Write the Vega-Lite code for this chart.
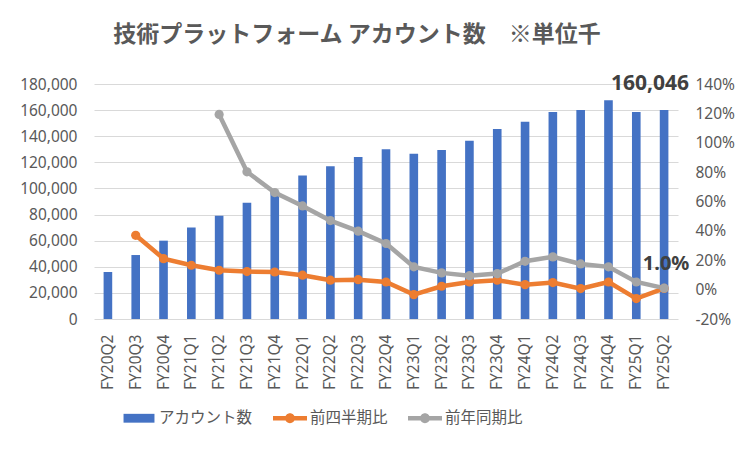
{
  "$schema": "https://vega.github.io/schema/vega-lite/v6.json",
  "width": 584,
  "height": 235,
  "autosize": {"type": "none"},
  "padding": {"left": 94, "top": 84, "right": 74, "bottom": 133},
  "background": "white",
  "title": {
    "text": "技術プラットフォーム アカウント数　※単位千",
    "frame": "group",
    "anchor": "middle",
    "offset": 26,
    "dx": -29,
    "font": "Noto Sans CJK JP",
    "fontSize": 23,
    "fontWeight": "bold",
    "color": "#595959"
  },
  "data": {
    "values": [
      {"q": "FY20Q2", "acc": 36000, "qoq": null, "yoy": null},
      {"q": "FY20Q3", "acc": 49000, "qoq": 0.37, "yoy": null},
      {"q": "FY20Q4", "acc": 60000, "qoq": 0.211, "yoy": null},
      {"q": "FY21Q1", "acc": 70000, "qoq": 0.166, "yoy": null},
      {"q": "FY21Q2", "acc": 79000, "qoq": 0.132, "yoy": 1.193},
      {"q": "FY21Q3", "acc": 89000, "qoq": 0.123, "yoy": 0.802},
      {"q": "FY21Q4", "acc": 98000, "qoq": 0.12, "yoy": 0.661},
      {"q": "FY22Q1", "acc": 110000, "qoq": 0.098, "yoy": 0.57},
      {"q": "FY22Q2", "acc": 117000, "qoq": 0.064, "yoy": 0.47},
      {"q": "FY22Q3", "acc": 124000, "qoq": 0.068, "yoy": 0.398},
      {"q": "FY22Q4", "acc": 130000, "qoq": 0.052, "yoy": 0.314},
      {"q": "FY23Q1", "acc": 126500, "qoq": -0.034, "yoy": 0.155},
      {"q": "FY23Q2", "acc": 129500, "qoq": 0.023, "yoy": 0.114},
      {"q": "FY23Q3", "acc": 136500, "qoq": 0.052, "yoy": 0.095},
      {"q": "FY23Q4", "acc": 145500, "qoq": 0.064, "yoy": 0.109},
      {"q": "FY24Q1", "acc": 151000, "qoq": 0.034, "yoy": 0.193},
      {"q": "FY24Q2", "acc": 158500, "qoq": 0.048, "yoy": 0.223},
      {"q": "FY24Q3", "acc": 160000, "qoq": 0.007, "yoy": 0.175},
      {"q": "FY24Q4", "acc": 167500, "qoq": 0.052, "yoy": 0.155},
      {"q": "FY25Q1", "acc": 158500, "qoq": -0.061, "yoy": 0.052},
      {"q": "FY25Q2", "acc": 160046, "qoq": 0.008, "yoy": 0.01}
    ]
  },
  "encoding": {
    "x": {
      "field": "q",
      "type": "nominal",
      "sort": null,
      "scale": {"paddingInner": 0.69, "paddingOuter": 0.345},
      "axis": {
        "title": null,
        "labelAngle": -90,
        "labelFont": "Noto Sans",
        "labelFontSize": 15.5,
        "labelColor": "#595959",
        "labelPadding": 15,
        "domain": false,
        "ticks": false,
        "tickSize": 0,
        "grid": false
      }
    }
  },
  "layer": [
    {
      "mark": {"type": "bar"},
      "encoding": {
        "y": {
          "field": "acc",
          "type": "quantitative",
          "scale": {"domain": [0, 180000], "nice": false, "zero": true},
          "axis": {
            "title": null,
            "values": [0, 20000, 40000, 60000, 80000, 100000, 120000, 140000, 160000, 180000],
            "format": ",.0f",
            "grid": true,
            "gridColor": "#D9D9D9",
            "gridWidth": 1,
            "domain": false,
            "ticks": false,
            "tickSize": 0,
            "labelPadding": 17,
            "labelFont": "Noto Sans",
            "labelFontSize": 15.5,
            "labelColor": "#595959"
          }
        },
        "color": {
          "datum": "acc",
          "type": "nominal",
          "scale": {"domain": ["acc", "qoq", "yoy"], "range": ["#4472C4", "#ED7D31", "#A5A5A5"]},
          "legend": {
            "title": null,
            "orient": "none",
            "direction": "horizontal",
            "legendX": 28,
            "legendY": 317,
            "symbolSize": 1156,
            "labelOffset": 3,
            "columnPadding": 20,
            "labelFont": "Noto Sans CJK JP",
            "labelFontSize": 15.5,
            "labelColor": "#595959",
            "labelExpr": "datum.label == 'acc' ? 'アカウント数' : datum.label == 'qoq' ? '前四半期比' : '前年同期比'",
            "encode": {
              "symbols": {
                "update": {
                  "shape": {"signal": "datum.value == 'acc' ? 'M-0.91,-0.26H0.91V0.26H-0.91Z' : 'M-1,-0.13H1V0.13H-1Z M0.29,0A0.29,0.29 0 1,1 -0.29,0A0.29,0.29 0 1,1 0.29,0Z'"},
                  "fill": {"scale": "color", "field": "value"},
                  "stroke": {"value": "transparent"},
                  "strokeWidth": {"value": 0},
                  "opacity": {"value": 1}
                }
              }
            }
          }
        }
      }
    },
    {
      "transform": [{"fold": ["qoq", "yoy"], "as": ["series", "val"]}],
      "mark": {"type": "line", "strokeWidth": 4.5, "point": {"filled": true, "size": 85}},
      "encoding": {
        "y": {
          "field": "val",
          "type": "quantitative",
          "scale": {"domain": [-0.2, 1.4], "nice": false, "zero": false},
          "axis": {
            "orient": "right",
            "title": null,
            "values": [-0.2, 0, 0.2, 0.4, 0.6, 0.8, 1.0, 1.2, 1.4],
            "labelExpr": "replace(format(datum.value, '.0%'), '−', '-')",
            "grid": false,
            "domain": false,
            "ticks": false,
            "tickSize": 0,
            "labelPadding": 17,
            "labelFont": "Noto Sans",
            "labelFontSize": 15.5,
            "labelColor": "#595959"
          }
        },
        "color": {"field": "series", "type": "nominal", "legend": {"title": null}}
      }
    },
    {
      "transform": [{"filter": "datum.q == 'FY25Q2'"}],
      "mark": {"type": "text", "dx": -14, "dy": -26, "baseline": "middle", "align": "center", "font": "Noto Sans", "fontSize": 21, "fontWeight": "bold", "color": "#404040"},
      "encoding": {
        "y": {"field": "acc", "type": "quantitative", "scale": {"domain": [0, 180000], "nice": false}, "axis": null},
        "text": {"field": "acc", "type": "quantitative", "format": ","}
      }
    },
    {
      "transform": [{"filter": "datum.q == 'FY25Q2'"}],
      "mark": {"type": "text", "dx": 2, "dy": -24, "baseline": "middle", "align": "center", "font": "Noto Sans", "fontSize": 20, "fontWeight": "bold", "color": "#404040"},
      "encoding": {
        "y": {"field": "yoy", "type": "quantitative", "scale": {"domain": [-0.2, 1.4], "nice": false, "zero": false}, "axis": null},
        "text": {"field": "yoy", "type": "quantitative", "format": ".1%"}
      }
    }
  ],
  "resolve": {"scale": {"y": "independent"}},
  "config": {"view": {"stroke": null}}
}
